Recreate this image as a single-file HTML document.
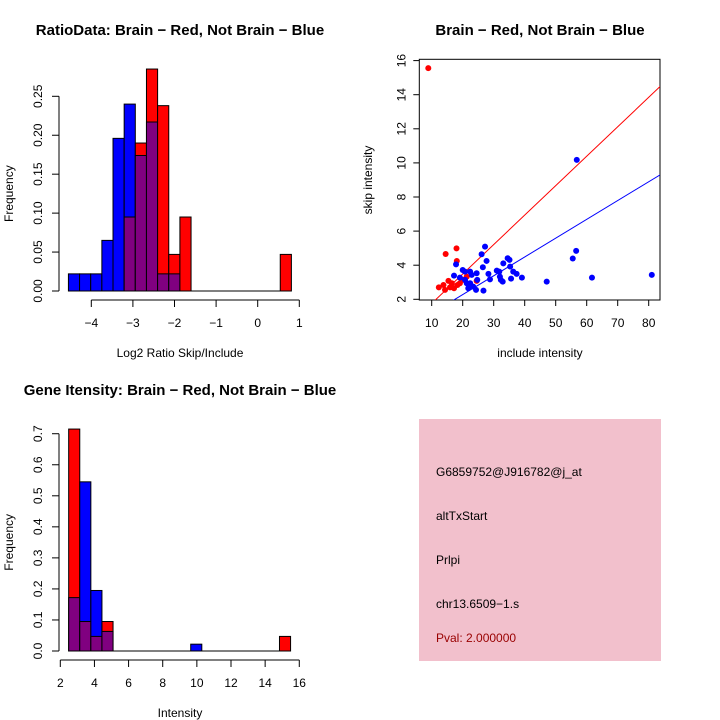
<!DOCTYPE html>
<html><head><meta charset="utf-8"><style>
body{margin:0;background:#fff}
svg{display:block;font-family:"Liberation Sans",sans-serif}
</style></head><body>
<svg id="c" width="720" height="720" viewBox="0 0 720 720"></svg>
<script>
// Histogram 1 (log2 ratio)
const h1Start = -4.55, h1Width = 0.268;
const h1Blue = [0.022,0.022,0.022,0.065,0.196,0.24,0.174,0.217,0.022,0.022,0,0,0,0,0,0,0,0,0,0];
const h1Red  = [0,0,0,0,0,0.095,0.19,0.285,0.238,0.047,0.095,0,0,0,0,0,0,0,0,0.047];
const h1XTicks = [-4,-3,-2,-1,0,1];
const h1YTicks = ["0.00","0.05","0.10","0.15","0.20","0.25"];
// Histogram 2 (intensity)
const h2Start = 2.49, h2Width = 0.65;
const h2Red  = [0.715,0.095,0.047,0.095,0,0,0,0,0,0,0,0,0,0,0,0,0,0,0,0.047];
const h2Blue = [0.172,0.545,0.195,0.063,0,0,0,0,0,0,0,0.022,0,0,0,0,0,0,0,0];
const h2XTicks = [2,4,6,8,10,12,14,16];
const h2YTicks = ["0.0","0.1","0.2","0.3","0.4","0.5","0.6","0.7"];
// Scatter
const redX = [8.9,14.5,18.0,18.1,12.3,14.3,13.8,15.4,16.5,17.2,18.3,19.1,20.2,21.3,24.5,15.9];
const redY = [15.56,4.66,4.99,4.25,2.70,2.55,2.84,3.08,2.94,2.65,2.84,2.94,3.14,3.33,3.08,2.70];
const blueX = [17.85,17.2,20.0,20.75,22.4,22.9,24.5,24.7,21.3,21.8,23.4,24.3,26.7,26.1,27.2,27.7,26.5,28.3,28.8,31.0,31.8,32.0,32.3,32.9,33.1,34.5,35.1,35.3,36.3,37.4,35.6,39.1,47.1,55.5,56.6,56.8,61.7,81.0,19.1,20.75,22.4];
const blueY = [4.05,3.39,3.72,3.62,3.62,3.43,3.53,3.14,2.94,2.65,2.74,2.55,2.51,4.64,5.09,4.25,3.88,3.49,3.17,3.68,3.62,3.33,3.14,3.04,4.11,4.41,4.31,3.92,3.62,3.49,3.21,3.27,3.04,4.39,4.84,10.18,3.27,3.43,3.27,3.14,2.94];
const redFit = [0.03,0.1727], blueFit = [0.07,0.1103];
const scXTicks = [10,20,30,40,50,60,70,80];
const scYTicks = [2,4,6,8,10,12,14,16];

const NS="http://www.w3.org/2000/svg", svg=document.getElementById('c');
function el(tag,attrs,parent,text){const e=document.createElementNS(NS,tag);for(const k in attrs)e.setAttribute(k,attrs[k]);if(text!==undefined)e.textContent=text;(parent||svg).appendChild(e);return e;}
function txt(x,y,s,opt,name){const t=el('text',Object.assign({x:x,y:y,'font-size':12,'text-anchor':'middle',fill:'#000'},opt||{}),svg,s);


return t;}

function hist(prefix,start,width,red,blue,xs,ys,xT,yT,yStepVal,title,xlab,titleY){
  const g=el('g',{});
  
  
  const bars=Math.max(red.length,blue.length);
  for(let i=0;i<bars;i++){
    const x0=xs(start+i*width), x1=xs(start+(i+1)*width);
    const r=red[i]||0,b=blue[i]||0;
    const hi=Math.max(r,b), lo=Math.min(r,b);
    if(hi>0){
      const rc=el('rect',{x:x0,y:ys(hi),width:x1-x0,height:ys(0)-ys(hi),fill:r>=b?'#ff0000':'#0000ff',stroke:'#000','stroke-width':1},g);
      
      
    }
    if(lo>0){
      const pc=el('rect',{x:x0,y:ys(lo),width:x1-x0,height:ys(0)-ys(lo),fill:'#800080',stroke:'#000','stroke-width':1},g);
      
      
    }
  }
  el('line',{x1:xs(start),x2:xs(start+bars*width),y1:ys(0),y2:ys(0),stroke:'#000'},g);
  const yx=ys(0)+9;
  el('line',{x1:xs(xT[0]),x2:xs(xT[xT.length-1]),y1:yx,y2:yx,stroke:'#000'},g);
  xT.forEach(v=>{el('line',{x1:xs(v),x2:xs(v),y1:yx,y2:yx+7,stroke:'#000'},g);txt(xs(v),yx+27,String(v).replace('-','\u2212'),{},prefix+'-x-tick-label');});
  const ax=59;
  el('line',{x1:ax,x2:ax,y1:ys(0),y2:ys(yStepVal*(yT.length-1)),stroke:'#000'},g);
  yT.forEach((s,i)=>{const y=ys(i*yStepVal);el('line',{x1:ax,x2:ax-7,y1:y,y2:y,stroke:'#000'},g);
    txt(0,0,s,{transform:`translate(${ax-17},${y}) rotate(-90)`},prefix+'-y-tick-label');});
  txt(180,titleY,title,{'font-size':15,'font-weight':'bold'},prefix+'-title');
  txt(180,yx+57,xlab,{},prefix+'-x-axis-title');
  txt(0,0,'Frequency',{transform:`translate(13,${(ys(0)+ys(yStepVal*(yT.length-1)))/2}) rotate(-90)`},prefix+'-y-axis-title');
}
hist('ratio',h1Start,h1Width,h1Red,h1Blue,v=>91.3+(v+4)*41.6,v=>291-v*778.8,h1XTicks,h1YTicks,0.05,'RatioData: Brain \u2212 Red, Not Brain \u2212 Blue','Log2 Ratio Skip/Include',35);
hist('intensity',h2Start,h2Width,h2Red,h2Blue,v=>60.3+(v-2)*17.07,v=>651-v*310.4,h2XTicks,h2YTicks,0.1,'Gene Itensity: Brain \u2212 Red, Not Brain \u2212 Blue','Intensity',395);

const sx=v=>431.7+(v-10)*3.1, sy=v=>299.3-(v-2)*17.05;
const L=419.3,R=660,T=59.3,B=300;
el('defs',{}).innerHTML='<clipPath id="clp"><rect x="419.3" y="59.3" width="240.7" height="240.7"/></clipPath>';
const sg=el('g',{});


el('rect',{x:L,y:T,width:R-L,height:B-T,fill:'none',stroke:'#000'},sg);
[[redFit,'#ff0000','red-fit-line'],[blueFit,'#0000ff','blue-fit-line']].forEach(([f,c,n])=>{
  const x0=0,x1=90;
  const ln=el('line',{x1:sx(x0),y1:sy(f[0]+f[1]*x0),x2:sx(x1),y2:sy(f[0]+f[1]*x1),stroke:c,'clip-path':'url(#clp)'},sg);
  
  
});
redX.forEach((x,i)=>{const p=el('circle',{cx:sx(x),cy:sy(redY[i]),r:3,fill:'#ff0000'},sg);
  
  });
blueX.forEach((x,i)=>{const p=el('circle',{cx:sx(x),cy:sy(blueY[i]),r:3,fill:'#0000ff'},sg);
  
  });
scXTicks.forEach(v=>{el('line',{x1:sx(v),x2:sx(v),y1:B,y2:B+6,stroke:'#000'},sg);txt(sx(v),B+27,String(v),{},'scatter-x-tick-label');});
scYTicks.forEach(v=>{el('line',{x1:L,x2:L-6,y1:sy(v),y2:sy(v),stroke:'#000'},sg);txt(0,0,String(v),{transform:`translate(${L-14},${sy(v)}) rotate(-90)`},'scatter-y-tick-label');});
txt(540,35,'Brain \u2212 Red, Not Brain \u2212 Blue',{'font-size':15,'font-weight':'bold'},'scatter-title');
txt(540,357,'include intensity',{},'scatter-x-axis-title');
txt(0,0,'skip intensity',{transform:`translate(372,180) rotate(-90)`},'scatter-y-axis-title');

const ib=el('rect',{x:419,y:419,width:242,height:242,fill:'#f2c0cc'});


const lines=[['G6859752@J916782@j_at',476,'#000','probe-id'],['altTxStart',520,'#000','event-type'],['Prlpi',564,'#000','gene-name'],['chr13.6509-1.s',608,'#000','location'],['Pval: 2.000000',642,'#990000','p-value']];
lines.forEach(([s,y,c,n])=>txt(436,y,s.replace(/-/g,'\u2212'),{'text-anchor':'start',fill:c,'font-size':12},n));
</script>
</body></html>
